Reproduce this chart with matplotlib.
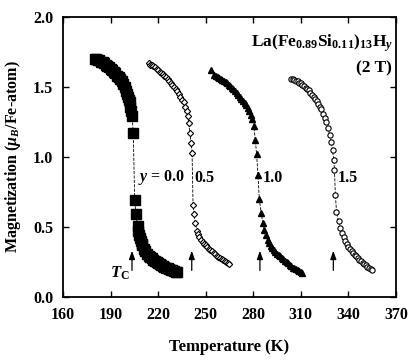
import numpy as np
import matplotlib
matplotlib.use("Agg")
import matplotlib.pyplot as plt

plt.rcParams['font.family'] = ['Liberation Serif', 'DejaVu Serif']
plt.rcParams['font.weight'] = 'bold'
plt.rcParams['mathtext.fontset'] = 'custom'
plt.rcParams['mathtext.rm'] = 'Liberation Serif:bold'
plt.rcParams['mathtext.it'] = 'Liberation Serif:bold:italic'
plt.rcParams['mathtext.bf'] = 'Liberation Serif:bold'

# ----- data (T in K, M in muB/Fe-atom) -----
# y = 0.0 (filled squares)
T_00 = [180, 181, 182, 183, 184, 185, 186, 187, 188, 189, 190, 191, 192, 193, 194, 195,
        196, 197, 198, 199, 200, 200.5, 201, 201.5, 202, 202.5, 203,
        203.6, 204.3, 205.2, 206.0, 207.0,
        207.5, 208, 208.5, 209, 209.5, 210, 211, 212, 213, 214, 215, 216, 217, 218, 219,
        220, 221, 222, 223, 224, 225, 226, 227, 228, 229, 230, 231, 232]
M_00 = [1.70, 1.70, 1.69, 1.69, 1.68, 1.68, 1.67, 1.66, 1.65, 1.64, 1.63, 1.62, 1.61, 1.60, 1.58, 1.57,
        1.56, 1.54, 1.52, 1.50, 1.47, 1.45, 1.43, 1.41, 1.39, 1.36, 1.33,
        1.29, 1.17, 0.69, 0.59, 0.51,
        0.47, 0.44, 0.42, 0.40, 0.38, 0.37, 0.345, 0.325, 0.31, 0.295, 0.285, 0.275, 0.265, 0.255, 0.25,
        0.24, 0.235, 0.225, 0.22, 0.215, 0.21, 0.205, 0.20, 0.195, 0.19, 0.185, 0.18, 0.175]

# y = 0.5 (open diamonds)
T_05 = [214, 215, 216, 217, 218, 219, 220, 221, 222, 223, 224, 225, 226, 227, 228, 229,
        230, 231, 232, 233, 234, 235, 236, 237, 238,
        238.7, 239.3, 240.0, 240.8, 241.4, 242.0, 242.5, 243.5,
        244.5, 245, 246, 247, 248, 249, 250, 251, 252, 253, 254, 255, 256, 257, 258, 259,
        260, 261, 262, 263, 264, 265]
M_05 = [1.67, 1.66, 1.655, 1.65, 1.64, 1.63, 1.62, 1.61, 1.60, 1.59, 1.58, 1.57, 1.56, 1.545, 1.53, 1.515,
        1.50, 1.485, 1.47, 1.45, 1.43, 1.41, 1.39, 1.36, 1.33,
        1.29, 1.24, 1.17, 1.10, 1.03, 0.66, 0.59, 0.53,
        0.47, 0.45, 0.43, 0.41, 0.395, 0.38, 0.37, 0.355, 0.345, 0.335, 0.325, 0.315, 0.305, 0.295, 0.285, 0.28,
        0.27, 0.265, 0.255, 0.25, 0.24, 0.235]

# y = 1.0 (filled triangles)
T_10 = [253.1,
        255.5, 256.5, 257.5, 258.5, 259.5, 260.5, 261.5, 262.5, 263.5, 264.5, 265.5, 266.5, 267.5,
        268.5, 269.5, 270.5, 271.5, 272.5, 273.5, 274.5, 275.5, 276.5, 277.5, 278.5, 279.5,
        280.4, 281.3, 282.1, 283.0, 283.8, 285.0, 286.0,
        287, 288, 289, 290, 291, 292, 293, 294, 295, 296, 297, 298, 299, 300, 301, 302,
        303, 304, 305, 306, 307, 308, 309, 310, 311]
M_10 = [1.62,
        1.585, 1.58, 1.57, 1.565, 1.56, 1.55, 1.54, 1.535, 1.525, 1.515, 1.505, 1.495, 1.485,
        1.47, 1.46, 1.445, 1.43, 1.415, 1.40, 1.385, 1.37, 1.35, 1.33, 1.30, 1.27,
        1.22, 1.12, 1.02, 0.87, 0.70, 0.60, 0.53,
        0.48, 0.44, 0.41, 0.385, 0.365, 0.35, 0.335, 0.32, 0.31, 0.30, 0.29, 0.28, 0.27, 0.26, 0.25, 0.24,
        0.23, 0.22, 0.21, 0.205, 0.20, 0.19, 0.185, 0.18, 0.17]

# y = 1.5 (open circles)
T_15 = [304, 305, 306, 307, 308, 309, 310, 311, 312, 313, 314, 315, 316, 317, 318, 319,
        320, 321, 322, 323, 324, 325, 326,
        327, 328.2, 329.2, 330.0, 330.8, 331.2, 331.8, 332.5, 333.8,
        335, 336, 337, 338, 339, 340, 341, 342, 343, 344, 345, 346, 347, 348, 349, 350,
        351, 352, 353, 354, 355]
M_15 = [1.56, 1.555, 1.55, 1.545, 1.54, 1.53, 1.525, 1.515, 1.505, 1.495, 1.485, 1.475, 1.46, 1.445, 1.43, 1.415,
        1.40, 1.38, 1.36, 1.34, 1.31, 1.28, 1.25,
        1.21, 1.16, 1.11, 1.05, 0.98, 0.91, 0.73, 0.61, 0.54,
        0.49, 0.46, 0.43, 0.40, 0.38, 0.36, 0.345, 0.33, 0.315, 0.30, 0.29, 0.275, 0.265, 0.255, 0.245, 0.235,
        0.225, 0.215, 0.21, 0.20, 0.19]

T_c = [203.5, 241.2, 284.2, 330.5]
labels = ["$y$ = 0.0", "0.5", "1.0", "1.5"]
label_T = [207.0, 243.0, 286.0, 333.0]
label_M = 0.85

fig = plt.figure(figsize=(4.12, 3.6), dpi=100)
ax = fig.add_axes([0.153, 0.175, 0.808, 0.778])

ax.plot(T_00, M_00, color='black', lw=0.6, ls='--', marker='s', ms=6.5, mfc='black', mec='black')
ax.plot(T_05, M_05, color='black', lw=0.6, ls='--', marker='D', ms=3.2, mfc='white', mec='black', mew=0.8)
ax.plot(T_10, M_10, color='black', lw=0.6, ls='--', marker='^', ms=4.8, mfc='black', mec='black')
ax.plot(T_15, M_15, color='black', lw=0.6, ls='--', marker='o', ms=3.8, mfc='white', mec='black', mew=0.8)

for t in T_c:
    ax.annotate("", xy=(t, 0.35), xytext=(t, 0.17),
                arrowprops=dict(arrowstyle='-|>,head_width=0.18,head_length=0.5', color='black', lw=0.9))

for lab, t in zip(labels, label_T):
    ax.text(t, label_M, lab, fontsize=11.5, fontweight='bold', ha='left', va='center')

ax.text(196, 0.17, r"$T_{\mathrm{C}}$", fontsize=12, ha='center', va='center')
ax.text(368, 1.81, r"La(Fe$_{0.89}$Si$_{0.11}$)$_{13}$H$_{y}$", fontsize=12.5, ha='right', va='center')
ax.text(356, 1.63, "(2 T)", fontsize=12.5, ha='center', va='center')

ax.set_xlim(160, 370)
ax.set_ylim(0, 2.0)
ax.set_xticks(np.arange(160, 371, 30))
ax.set_yticks([0.0, 0.5, 1.0, 1.5, 2.0])
ax.set_yticklabels(["0.0", "0.5", "1.0", "1.5", "2.0"])
ax.tick_params(direction='in', top=True, right=True, length=4, width=1, labelsize=11.5, pad=7)
for s in ax.spines.values():
    s.set_linewidth(1.3)

ax.set_xlabel("Temperature (K)", fontsize=12, fontweight='bold', labelpad=12)
ax.set_ylabel(r"Magnetization ($\mu_{B}$/Fe-atom)", fontsize=11.5, fontweight='bold', labelpad=7)

fig.savefig("out.png", dpi=100)
